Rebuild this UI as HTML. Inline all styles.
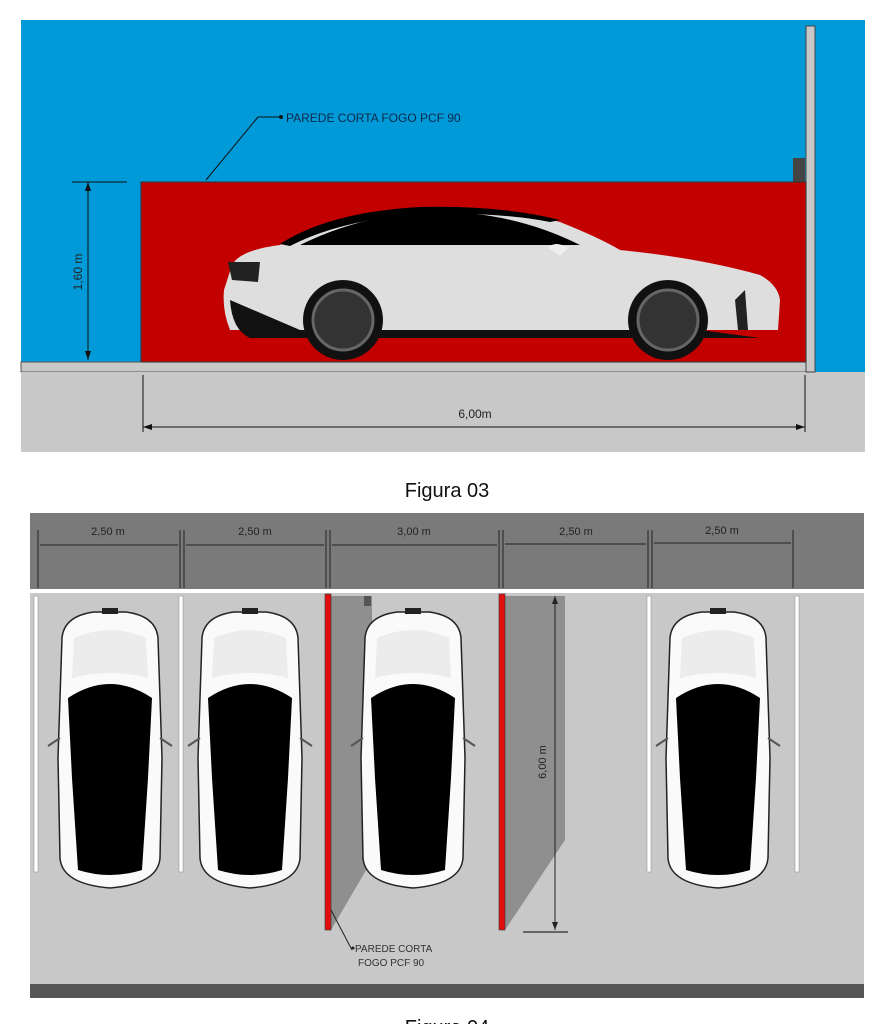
<!DOCTYPE html>
<html><head><meta charset="utf-8"><style>
html,body{margin:0;padding:0;background:#fff;width:894px;height:1024px;overflow:hidden}
svg{display:block}
</style></head><body>
<svg width="894" height="1024" viewBox="0 0 894 1024" xmlns="http://www.w3.org/2000/svg" font-family="Liberation Sans, sans-serif">
<defs>
<g id="car">
  <path d="M8,30 Q10,8 40,4 L72,4 Q102,8 104,30 L108,150 L106,250 Q104,276 56,280 Q8,276 6,250 L4,150 Z" fill="#fafafa" stroke="#222" stroke-width="1.5"/>
  <path d="M14,90 Q56,62 98,90 L94,170 L88,262 Q56,272 24,262 L18,170 Z" fill="#000"/>
  <path d="M20,30 Q56,14 92,30 L94,70 Q56,60 18,70 Z" fill="#ececec"/>
  <rect x="48" y="0" width="16" height="6" fill="#222"/>
  <path d="M6,130 L-6,138 M106,130 L118,138" stroke="#555" stroke-width="2"/>
</g>
</defs>
<!-- Figure 03 -->
<rect x="21" y="20" width="844" height="352" fill="#009ad9"/>
<rect x="21" y="362" width="794" height="10" fill="#c8c8c8" stroke="#555" stroke-width="1"/>
<rect x="21" y="372" width="844" height="80" fill="#c8c8c8"/>
<rect x="806" y="26" width="9" height="346" fill="#c8c8c8" stroke="#444" stroke-width="1"/>
<rect x="793" y="158" width="12" height="24" fill="#444"/>
<rect x="141" y="182" width="665" height="180" fill="#c30000" stroke="#333" stroke-width="1"/>
<!-- car side -->
<path d="M232,265 Q240,250 280,245 Q330,212 420,208 Q500,206 560,222 Q600,238 620,250 Q700,258 760,275 Q778,285 780,300 L778,330 L230,330 Q222,310 224,290 Z" fill="#dedede"/>
<path d="M300,245 Q360,215 430,212 Q510,210 580,245 Z" fill="#000"/>
<path d="M280,244 Q330,212 420,207 Q500,205 560,220 L550,222 Q500,212 420,214 Q340,220 290,246 Z" fill="#000"/>
<path d="M230,300 Q232,330 250,338 L760,338 L700,330 L300,330 Z" fill="#111"/>
<path d="M228,262 L260,262 L258,282 L232,280 Z" fill="#222"/>
<path d="M735,300 L745,290 L748,330 L738,330 Z" fill="#222"/>
<circle cx="343" cy="320" r="40" fill="#111"/>
<circle cx="343" cy="320" r="30" fill="#333" stroke="#666" stroke-width="3"/>
<circle cx="668" cy="320" r="40" fill="#111"/>
<circle cx="668" cy="320" r="30" fill="#333" stroke="#666" stroke-width="3"/>
<path d="M548,248 Q555,240 568,248 L560,256 Z" fill="#eee"/>
<!-- dims -->
<g stroke="#111" stroke-width="1" fill="none">
<line x1="72" y1="182" x2="127" y2="182"/>
<line x1="88" y1="182" x2="88" y2="360"/>
<line x1="143" y1="375" x2="143" y2="432"/>
<line x1="805" y1="375" x2="805" y2="432"/>
<line x1="143" y1="427" x2="805" y2="427"/>
<line x1="206" y1="180" x2="258" y2="117"/>
<line x1="258" y1="117" x2="280" y2="117"/>
</g>
<g fill="#111">
<path d="M88,182 l-3,9 h6z M88,360 l-3,-9 h6z M143,427 l9,-3 v6z M805,427 l-9,-3 v6z"/>
<circle cx="281" cy="117" r="2"/>
</g>
<text x="286" y="122" font-size="12" fill="#0b2a4a">PAREDE CORTA FOGO PCF 90</text>
<text transform="translate(82,272) rotate(-90)" font-size="12" text-anchor="middle" fill="#222">1,60 m</text>
<text x="475" y="418" font-size="12" text-anchor="middle" fill="#222">6,00m</text>
<text x="447" y="497" font-size="20" text-anchor="middle" fill="#111">Figura 03</text>
<!-- Figure 04 -->
<rect x="30" y="513" width="834" height="76" fill="#7a7a7a"/>
<rect x="30" y="589" width="834" height="4" fill="#fff"/>
<rect x="30" y="593" width="834" height="392" fill="#c8c8c8"/>
<rect x="30" y="984" width="834" height="14" fill="#555"/>
<g stroke="#222" stroke-width="1">
<line x1="38" y1="530" x2="38" y2="588"/>
<line x1="180" y1="530" x2="180" y2="588"/><line x1="184" y1="530" x2="184" y2="588"/>
<line x1="326" y1="530" x2="326" y2="588"/><line x1="330" y1="530" x2="330" y2="588"/>
<line x1="499" y1="530" x2="499" y2="588"/><line x1="503" y1="530" x2="503" y2="588"/>
<line x1="648" y1="530" x2="648" y2="588"/><line x1="652" y1="530" x2="652" y2="588"/>
<line x1="793" y1="530" x2="793" y2="588"/>
<line x1="40" y1="545" x2="178" y2="545"/>
<line x1="186" y1="545" x2="324" y2="545"/>
<line x1="332" y1="545" x2="497" y2="545"/>
<line x1="505" y1="544" x2="646" y2="544"/>
<line x1="654" y1="543" x2="791" y2="543"/>
</g>
<g font-size="11" fill="#222" text-anchor="middle">
<text x="108" y="535">2,50 m</text><text x="255" y="535">2,50 m</text>
<text x="414" y="535">3,00 m</text><text x="576" y="535">2,50 m</text><text x="722" y="534">2,50 m</text>
</g>
<!-- shadows -->
<polygon points="331,596 372,596 372,860 331,930" fill="#8f8f8f"/>
<polygon points="505,596 565,596 565,840 505,930" fill="#8f8f8f"/>
<!-- stripes -->
<g fill="#fff" stroke="#888" stroke-width="0.5">
<rect x="34" y="596" width="4" height="276"/><rect x="179" y="596" width="4" height="276"/>
<rect x="647" y="596" width="4" height="276"/><rect x="795" y="596" width="4" height="276"/>
</g>
<rect x="325" y="594" width="6" height="336" fill="#e01010" stroke="#333" stroke-width="0.6"/>
<rect x="499" y="594" width="6" height="336" fill="#e01010" stroke="#333" stroke-width="0.6"/>
<rect x="364" y="596" width="7" height="10" fill="#555"/>
<use href="#car" x="54" y="608"/>
<use href="#car" x="194" y="608"/>
<use href="#car" x="357" y="608"/>
<use href="#car" x="662" y="608"/>
<g stroke="#222" stroke-width="1">
<line x1="555" y1="596" x2="555" y2="930"/>
<line x1="523" y1="932" x2="568" y2="932" stroke-width="1.5" stroke="#444"/>
<line x1="331" y1="910" x2="352" y2="950"/>
</g>
<path d="M555,596 l-3,8 h6z M555,930 l-3,-8 h6z" fill="#222"/>
<circle cx="353" cy="948" r="1.5" fill="#222"/>
<text transform="translate(546,762) rotate(-90)" font-size="11" text-anchor="middle" fill="#222">6,00 m</text>
<text x="355" y="952" font-size="10" fill="#333">PAREDE CORTA</text>
<text x="358" y="966" font-size="10" fill="#333">FOGO PCF 90</text>
<text x="447" y="1034" font-size="20" text-anchor="middle" fill="#111">Figura 04</text>
</svg>
</body></html>
